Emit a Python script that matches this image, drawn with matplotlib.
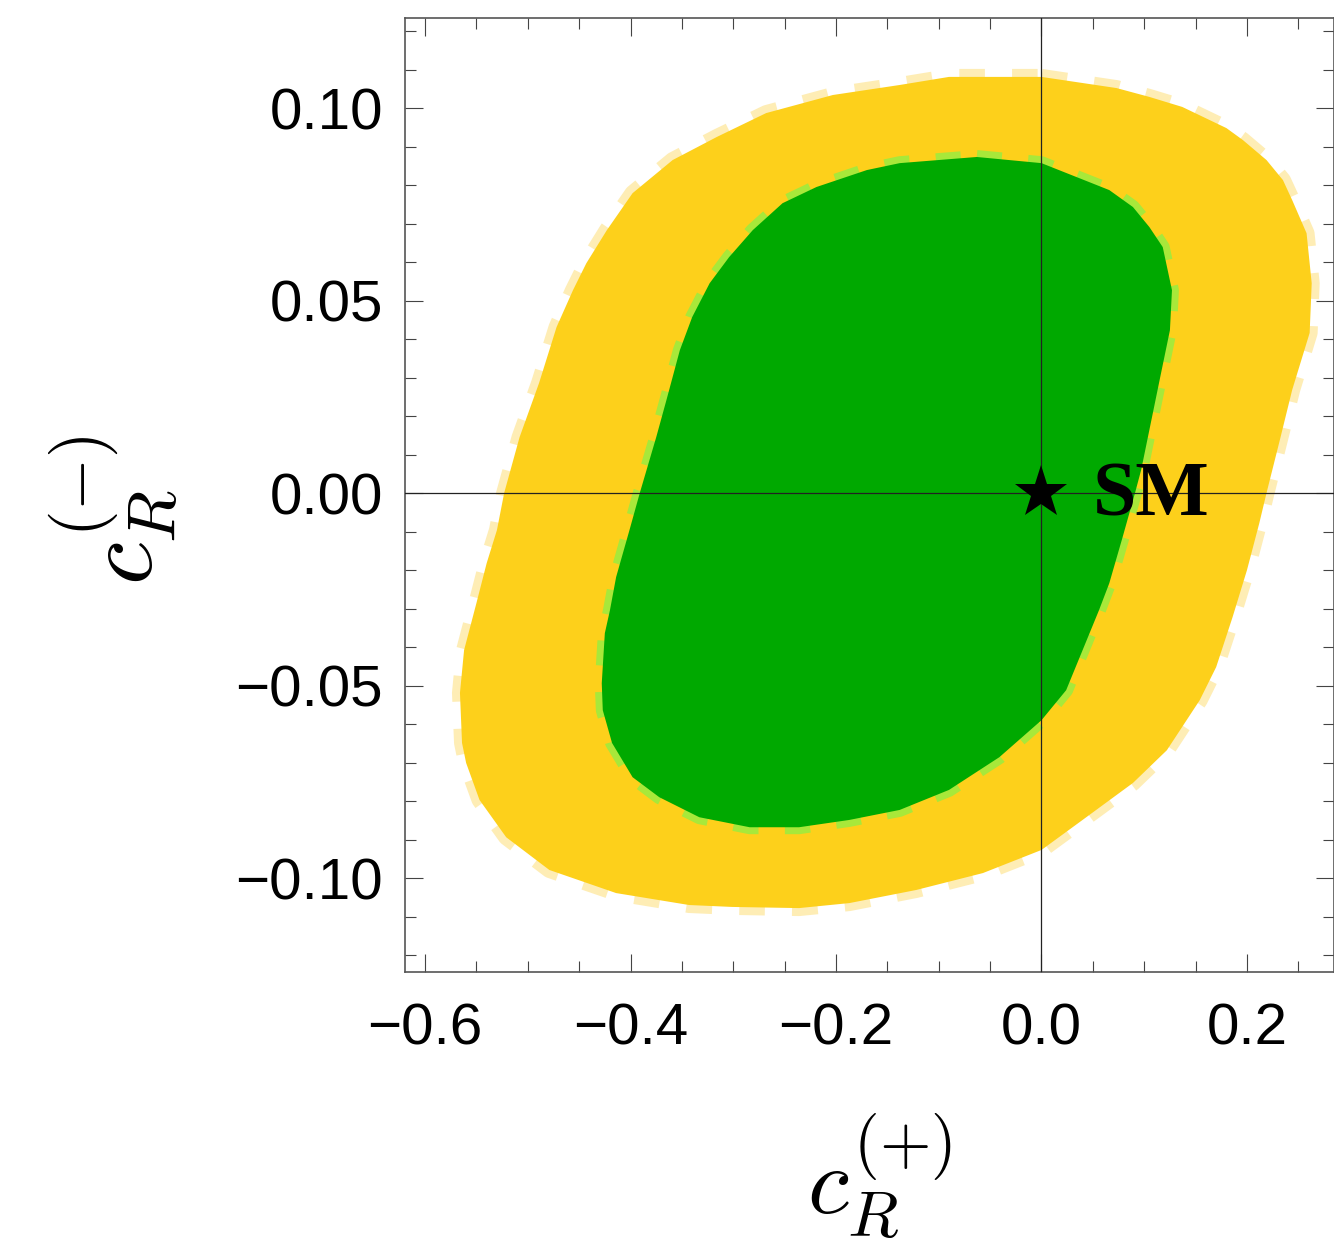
import numpy as np
import matplotlib
matplotlib.use("Agg")
import matplotlib.pyplot as plt
from matplotlib.ticker import FixedLocator, MultipleLocator

plt.rcParams['font.family'] = ['Liberation Sans', 'DejaVu Sans']
plt.rcParams['mathtext.fontset'] = 'cm'

# outer (yellow) region boundary
outer_x = [0.000, 0.073, 0.105, 0.137, 0.180, 0.196, 0.219, 0.235, 0.244, 0.258,
           0.263, 0.261, 0.244, 0.232, 0.219, 0.212, 0.200, 0.186, 0.170, 0.154,
           0.122, 0.089, 0.040, 0.000, -0.057, -0.122, -0.187, -0.236, -0.301, -0.343,
           -0.414, -0.479, -0.521, -0.547, -0.560, -0.564, -0.566, -0.562, -0.550, -0.540,
           -0.530, -0.523, -0.508, -0.489, -0.472, -0.456, -0.443, -0.423, -0.398, -0.359,
           -0.316, -0.268, -0.203, -0.138, -0.090]
outer_y = [0.1081, 0.1052, 0.1029, 0.1003, 0.0948, 0.0917, 0.0865, 0.0813, 0.0761, 0.0675,
           0.0545, 0.0416, 0.0268, 0.0138, 0.0000, -0.0078, -0.0200, -0.0322, -0.0452, -0.0538,
           -0.0668, -0.0753, -0.0849, -0.0927, -0.0987, -0.1031, -0.1065, -0.1078, -0.1075, -0.1070,
           -0.1039, -0.0979, -0.0894, -0.0797, -0.0701, -0.0649, -0.0519, -0.0408, -0.0286, -0.0182,
           -0.0096, 0.0000, 0.0145, 0.0286, 0.0431, 0.0527, 0.0597, 0.0683, 0.0779, 0.0865,
           0.0925, 0.0987, 0.1034, 0.1060, 0.1081]

# inner (green) region boundary
inner_x = [-0.063, 0.000, 0.066, 0.089, 0.105, 0.118, 0.127, 0.125, 0.115, 0.105,
           0.097, 0.091, 0.079, 0.066, 0.056, 0.040, 0.024, 0.000, -0.041, -0.090,
           -0.138, -0.187, -0.236, -0.284, -0.333, -0.372, -0.398, -0.418, -0.427, -0.428,
           -0.425, -0.420, -0.414, -0.401, -0.391, -0.375, -0.365, -0.352, -0.340, -0.323,
           -0.304, -0.281, -0.252, -0.219, -0.170, -0.138]
inner_y = [0.0873, 0.0857, 0.0787, 0.0743, 0.0691, 0.0639, 0.0527, 0.0423, 0.0294, 0.0164,
           0.0060, 0.0000, -0.0114, -0.0234, -0.0304, -0.0408, -0.0512, -0.0590, -0.0686, -0.0771,
           -0.0823, -0.0849, -0.0868, -0.0868, -0.0842, -0.0790, -0.0738, -0.0649, -0.0564, -0.0494,
           -0.0364, -0.0304, -0.0218, -0.0096, 0.0000, 0.0145, 0.0242, 0.0371, 0.0457, 0.0545,
           0.0613, 0.0683, 0.0753, 0.0795, 0.0839, 0.0857]

sm_point = (0.0, 0.0)

xticks = [-0.6, -0.4, -0.2, 0.0, 0.2]
xtick_labels = ['\u22120.6', '\u22120.4', '\u22120.2', '0.0', '0.2']
yticks = [0.10, 0.05, 0.00, -0.05, -0.10]
ytick_labels = ['0.10', '0.05', '0.00', '\u22120.05', '\u22120.10']

fig = plt.figure(figsize=(13.34, 12.5), dpi=100)
ax = fig.add_axes([0.3036, 0.2224, 0.6964, 0.7632])

ox = outer_x + [outer_x[0]]
oy = outer_y + [outer_y[0]]
ix = inner_x + [inner_x[0]]
iy = inner_y + [inner_y[0]]

# dashed contours sit under the fills so only the outer half shows
ax.plot(ox, oy, color='#FEEDB5', lw=11.5, ls=(0, (1.6, 1.7)),
        dash_capstyle='butt', solid_joinstyle='round', zorder=1)
ax.fill(outer_x, outer_y, color='#FDD01B', lw=0, zorder=2)
ax.plot(ix, iy, color='#A8E83A', lw=10, ls=(0, (1.8, 1.9)),
        dash_capstyle='butt', zorder=3)
ax.fill(inner_x, inner_y, color='#00A900', lw=0, zorder=4)

ax.axhline(0, color='#222222', lw=0.9, zorder=5)
ax.axvline(0, color='#222222', lw=0.9, zorder=5)

ax.plot([sm_point[0]], [sm_point[1]], marker='*', color='black', ms=40,
        mew=0, zorder=6)
ax.text(sm_point[0] + 0.0495, sm_point[1] - 0.0057, 'SM', family='Liberation Serif',
        fontweight='bold', fontsize=56, ha='left', va='baseline', zorder=7)

ax.set_xlim(-0.6195, 0.2847)
ax.set_ylim(-0.1244, 0.1234)

ax.xaxis.set_major_locator(FixedLocator(xticks))
ax.set_xticklabels(xtick_labels)
ax.xaxis.set_minor_locator(MultipleLocator(0.05))
ax.yaxis.set_major_locator(FixedLocator(yticks))
ax.set_yticklabels(ytick_labels)
ax.yaxis.set_minor_locator(MultipleLocator(0.01))

ax.tick_params(which='both', direction='in', top=True, right=True,
               color='#444444', width=0.8, labelsize=42, labelcolor='black')
ax.tick_params(which='major', length=13)
ax.tick_params(which='minor', length=8)
ax.tick_params(axis='x', pad=22)
ax.tick_params(axis='y', pad=16)

for sp in ax.spines.values():
    sp.set_color('#555555')
    sp.set_linewidth(1.2)

ax.set_xlabel(r'$c_R^{(+)}$', fontsize=68)
ax.xaxis.set_label_coords(0.511, -0.147)
ax.xaxis.label.set_va('top')
ax.set_ylabel(r'$c_R^{(-)}$', fontsize=70)
ax.yaxis.set_label_coords(-0.242, 0.484)

fig.savefig('out.png', dpi=100)
